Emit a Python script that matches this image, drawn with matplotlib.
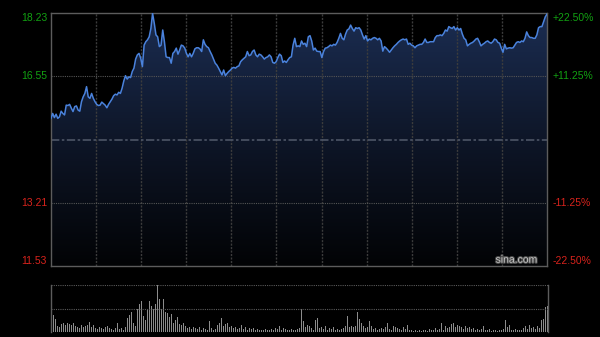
import matplotlib
matplotlib.use("Agg")
import matplotlib.pyplot as plt
import matplotlib.patheffects as pe
import numpy as np
from matplotlib.colors import LinearSegmentedColormap
from matplotlib.transforms import blended_transform_factory

# intraday price trace
price = [
    15.44, 15.57, 15.46, 15.55, 15.44, 15.48, 15.63, 15.57, 15.53, 15.79,
    15.78, 15.81, 15.71, 15.62, 15.75, 15.77, 15.66, 15.63, 15.88, 16.01,
    16.10, 16.28, 16.01, 15.97, 16.10, 15.97, 15.88, 15.81, 15.78, 15.79,
    15.87, 15.83, 15.79, 15.72, 15.81, 15.88, 15.95, 16.04, 16.08, 16.06,
    16.13, 16.10, 16.24, 16.43, 16.57, 16.48, 16.54, 16.52, 16.68, 16.77,
    17.01, 17.12, 17.16, 17.03, 16.81,
    17.38, 17.47, 17.52, 17.60, 17.82, 18.22, 17.96, 17.65, 17.60, 17.34,
    17.38, 17.78, 17.47, 17.07, 17.05, 17.05, 16.90, 17.16, 17.21, 17.30,
    17.14, 17.25, 17.38, 17.36, 17.30, 17.16, 17.07, 17.16, 17.07, 17.16,
    17.28, 17.31, 17.31, 17.28, 17.21, 17.52, 17.40, 17.34, 17.31, 17.21,
    17.12, 17.01, 16.90, 16.85, 16.77, 16.68, 16.59, 16.72, 16.57, 16.63,
    16.68, 16.72, 16.77, 16.79, 16.77, 16.81, 16.83, 16.94, 16.99,
    17.03, 17.07, 17.21, 17.10, 17.12, 17.21, 17.25, 17.12, 17.07, 17.14,
    17.12, 17.07, 17.01, 17.05, 17.07, 17.12, 17.07, 16.92, 16.90, 16.94,
    17.05, 17.14, 17.10, 16.92, 16.96, 16.92, 16.99, 17.05, 17.07, 17.38,
    17.56, 17.34, 17.36, 17.34, 17.49, 17.40, 17.43, 17.34, 17.60, 17.63,
    17.49, 17.25, 17.30, 17.22, 17.21, 17.21, 17.05, 17.21, 17.30, 17.31,
    17.34, 17.38, 17.36, 17.40, 17.38, 17.45,
    17.56, 17.69, 17.56, 17.52, 17.67, 17.78, 17.81, 17.91, 17.82, 17.75,
    17.84, 17.82, 17.84, 17.78, 17.65, 17.54, 17.63, 17.49, 17.54, 17.52,
    17.56, 17.58, 17.56, 17.52, 17.56, 17.49, 17.22, 17.34, 17.30, 17.25,
    17.19, 17.25, 17.31, 17.36, 17.40, 17.45, 17.49, 17.52, 17.54, 17.52,
    17.54, 17.40, 17.43, 17.38, 17.36, 17.31, 17.36, 17.38, 17.40, 17.40,
    17.45, 17.54, 17.45, 17.45, 17.47, 17.47, 17.47, 17.58, 17.63, 17.63,
    17.65,
    17.63, 17.69, 17.78, 17.75, 17.87, 17.84, 17.82, 17.87, 17.78, 17.84,
    17.78, 17.82, 17.67, 17.56, 17.52, 17.36, 17.40, 17.43, 17.45, 17.49,
    17.54, 17.56, 17.47, 17.36, 17.40, 17.43, 17.47, 17.49, 17.45, 17.43,
    17.47, 17.54, 17.52, 17.45, 17.43, 17.30, 17.19, 17.40, 17.28, 17.30,
    17.31, 17.30, 17.31, 17.38, 17.45, 17.47, 17.45, 17.49, 17.47, 17.56,
    17.73, 17.63, 17.58, 17.58, 17.56, 17.56, 17.65, 17.84, 17.87, 17.87,
    18.00, 18.13, 18.20,
]

# volume (relative units, max = 100)
volume = [
    50, 37, 28, 12, 10, 18, 20, 15, 20, 18,
    15, 20, 12, 10, 8, 15, 10, 12, 15, 22,
    10, 15, 8, 6, 10, 8, 6, 10, 12, 8,
    6, 5, 8, 20, 6, 8, 5, 10, 30, 37,
    42, 20, 12, 50, 60, 65, 35, 25, 50, 65,
    55, 50, 60, 100, 70, 50, 70, 42, 40, 32,
    38, 20, 25, 32, 18, 15, 20, 12, 8, 10,
    6, 10, 8, 6, 10, 5, 8, 6, 4, 23,
    8, 5, 6, 15, 20, 30, 12, 18, 20, 10,
    12, 8, 10, 6, 8, 15, 6, 10, 5, 8,
    6, 8, 5, 6, 4, 5, 4, 6, 5, 4,
    6, 5, 8, 6, 12, 5, 8, 6, 4, 5,
    6, 4, 5, 6, 8, 50, 23,
    10, 15, 12, 8, 5, 26, 30, 8,
    10, 6, 12, 5, 8, 6, 10, 4, 6, 5,
    6, 8, 12, 33, 10, 12, 10, 12, 42, 28,
    20, 12, 8, 10, 23, 12, 6, 8, 5, 6,
    8, 6, 10, 20, 6, 5, 12, 10, 8, 6,
    5, 10, 6, 15, 4, 5, 3, 4, 3, 4,
    3, 5, 4, 3, 6, 5, 4, 8, 4, 6,
    20, 5, 12, 8, 10, 18, 20, 10, 15, 12,
    10, 6, 12, 8, 10, 6, 8, 5, 6, 4,
    6, 12, 5, 4, 6, 3, 5, 4, 3, 5,
    4, 6, 26, 10, 15, 5, 4, 6, 5, 4,
    5, 8, 12, 6, 15, 8, 10, 6, 12, 8,
    25, 28, 53, 55,
]

prev_close = 14.88
y_ticks = [18.23, 16.55, 13.21, 11.53]
pct_labels = ["+22.50%", "+11.25%", "-11.25%", "-22.50%"]
price_labels = ["18.23", "16.55", "13.21", "11.53"]

GREEN = "#12a112"
RED = "#d8231c"
BORDER = "#5c5c5c"
GRID = "#3c3c3c"

plt.rcParams["font.family"] = ["Liberation Sans", "DejaVu Sans"]

fig = plt.figure(figsize=(6.0, 3.37), dpi=100, facecolor="black")
ax = fig.add_axes([51 / 600, 1 - 266 / 337, 496 / 600, 253 / 337])
axv = fig.add_axes([51 / 600, 1 - 332 / 337, 497 / 600, 47 / 337])

n = len(price)
x = np.arange(n)
ymin, ymax = y_ticks[-1], y_ticks[0]

ax.set_facecolor("black")
ax.set_xlim(0, n - 1)
ax.set_ylim(ymin, ymax)

# gradient fill under the line: navy at the top fading to black
cmap = LinearSegmentedColormap.from_list("fill", ["#1b2d52", "#0e1628", "#020305"])
grad = np.linspace(0, 1, 256).reshape(-1, 1)
im = ax.imshow(grad, cmap=cmap, aspect="auto", extent=[0, n - 1, ymin, ymax],
               origin="upper", zorder=1, interpolation="bilinear")
poly = ax.fill_between(x, price, ymin, facecolor="none", edgecolor="none")
im.set_clip_path(poly.get_paths()[0], transform=ax.transData)

# grid
for k in range(1, 11):
    ax.axvline((n - 1) * k / 11, color=GRID, lw=1.0, ls=(0, (1.5, 1)), zorder=2)
for yv in (16.55, 13.21):
    ax.axhline(yv, color="#555555", lw=0.8, ls=(0, (1, 1)), zorder=2)
ax.axhline(prev_close, color="#4d5566", lw=1.2, ls=(0, (5, 1.5, 1.5, 1.5)), zorder=2)

ax.plot(x, price, color="#4a82dc", lw=1.1, zorder=3)

for s in ax.spines.values():
    s.set_color(BORDER)
    s.set_linewidth(1.0)
ax.set_xticks([])
ax.set_yticks([])

trans = blended_transform_factory(ax.transAxes, ax.transData)
vas = ["top", "center", "center", "bottom"]
for yv, pl, ql, va in zip(y_ticks, price_labels, pct_labels, vas):
    col = GREEN if yv > prev_close else RED
    ax.text(-0.008, yv, pl, transform=trans, ha="right", va=va, color=col, fontsize=7.5)
    ax.text(1.012, yv, ql, transform=trans, ha="left", va=va, color=col, fontsize=7.5)

ax.text(0.98, 0.005, "sina.com", transform=ax.transAxes, ha="right", va="bottom",
        color="#c8c8c8", fontsize=7.5, zorder=5,
        path_effects=[pe.withStroke(linewidth=1.5, foreground="#4a4a4a")])

# volume panel
axv.set_facecolor("black")
vx = np.linspace(0, n - 1, len(volume))
axv.bar(vx, volume, width=(n - 1) / len(volume) * 0.55, color="#8c8c8c", linewidth=0)
axv.set_xlim(-0.3, n - 1 + 0.3)
axv.set_ylim(0, max(volume))
axv.axhline(max(volume), color="#5a5a5a", lw=0.8, ls=(0, (1, 1)))
axv.axhline(max(volume) / 2, color="#5a5a5a", lw=0.8, ls=(0, (1, 1)))
for side in ("top", "bottom"):
    axv.spines[side].set_visible(False)
for side in ("left", "right"):
    axv.spines[side].set_color(BORDER)
    axv.spines[side].set_linewidth(1.0)
axv.set_xticks([])
axv.set_yticks([])

fig.savefig("out.png", dpi=100, facecolor="black")
